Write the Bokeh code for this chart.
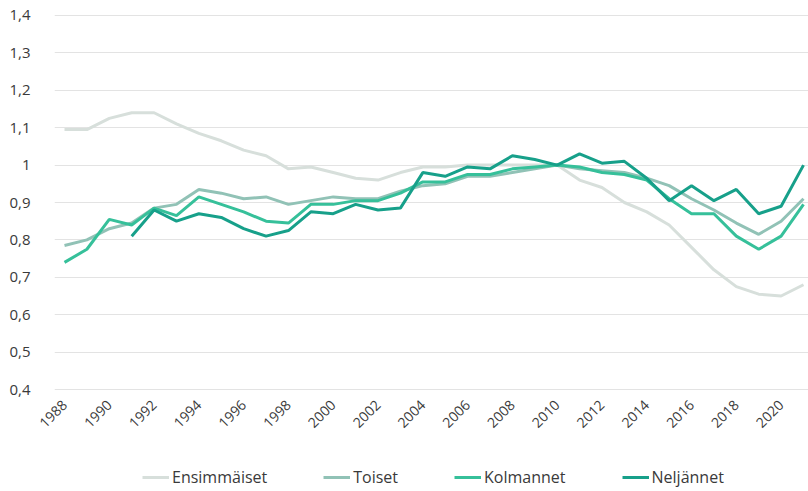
from bokeh.plotting import figure
from bokeh.models import Range1d, FixedTicker, Legend, LegendItem
from bokeh.layouts import column
from bokeh.embed import file_html
from bokeh.resources import INLINE
import math

years = list(range(1988, 2022))
ensimmaiset = [1.095, 1.095, 1.125, 1.14, 1.14, 1.11, 1.085, 1.065, 1.04, 1.025,
               0.99, 0.995, 0.98, 0.965, 0.96, 0.98, 0.995, 0.995, 1.0, 1.0,
               1.0, 1.0, 1.0, 0.96, 0.94, 0.9, 0.875, 0.84, 0.78, 0.72,
               0.675, 0.655, 0.65, 0.68]
toiset = [0.785, 0.80, 0.83, 0.845, 0.885, 0.895, 0.935, 0.925, 0.91, 0.915,
          0.895, 0.905, 0.915, 0.91, 0.91, 0.93, 0.945, 0.95, 0.97, 0.97,
          0.98, 0.99, 1.0, 0.99, 0.985, 0.98, 0.965, 0.945, 0.91, 0.88,
          0.845, 0.815, 0.85, 0.91]
kolmannet = [0.74, 0.775, 0.855, 0.84, 0.885, 0.865, 0.915, 0.895, 0.875, 0.85,
             0.845, 0.895, 0.895, 0.905, 0.905, 0.925, 0.955, 0.955, 0.975, 0.975,
             0.99, 0.995, 1.0, 0.995, 0.98, 0.975, 0.96, 0.91, 0.87, 0.87,
             0.81, 0.775, 0.81, 0.895]
nel_years = list(range(1991, 2022))
neljannet = [0.81, 0.88, 0.85, 0.87, 0.86, 0.83, 0.81,
             0.825, 0.875, 0.87, 0.895, 0.88, 0.885, 0.98, 0.97, 0.995, 0.99,
             1.025, 1.015, 1.0, 1.03, 1.005, 1.01, 0.965, 0.905, 0.945, 0.905,
             0.935, 0.87, 0.89, 1.0]

y_ticks = [0.4, 0.5, 0.6, 0.7, 0.8, 0.9, 1.0, 1.1, 1.2, 1.3, 1.4]
y_labels = ["0,4", "0,5", "0,6", "0,7", "0,8", "0,9", "1", "1,1", "1,2", "1,3", "1,4"]
x_ticks = list(range(1988, 2021, 2))

series_names = ["Ensimmäiset", "Toiset", "Kolmannet", "Neljännet"]
series_x = [years, years, years, nel_years]
series_y = [ensimmaiset, toiset, kolmannet, neljannet]
colors = ["#d7dfdb", "#91c2b6", "#36c09a", "#17a08a"]

FONT = "Open Sans"
LW = 3

p = figure(width=808, height=460, output_backend="svg", toolbar_location=None,
           x_range=Range1d(1987.553, 2021.223), y_range=Range1d(0.392, 1.408),
           min_border_left=54, min_border_right=0, min_border_top=12, min_border_bottom=68)
p.outline_line_color = None

for xs, ys, c in zip(series_x, series_y, colors):
    p.line(xs, ys, line_color=c, line_width=LW)

p.xgrid.grid_line_color = None
p.ygrid.grid_line_color = "#e3e3e3"
p.ygrid.grid_line_width = 1.2
p.ygrid.ticker = FixedTicker(ticks=y_ticks)

p.yaxis.ticker = FixedTicker(ticks=y_ticks)
p.yaxis.major_label_overrides = {t: l for t, l in zip(y_ticks, y_labels)}
p.yaxis.axis_line_color = None
p.yaxis.major_tick_line_color = None
p.yaxis.minor_tick_line_color = None
p.yaxis.major_label_standoff = 18
p.yaxis.major_label_text_font = FONT
p.yaxis.major_label_text_font_size = "15px"
p.yaxis.major_label_text_color = "#3a3a3a"

p.xaxis.ticker = FixedTicker(ticks=x_ticks)
p.xaxis.major_label_overrides = {t: str(t) for t in x_ticks}
p.xaxis.axis_line_color = None
p.xaxis.major_tick_line_color = None
p.xaxis.minor_tick_line_color = None
p.xaxis.major_label_orientation = math.pi / 4
p.xaxis.major_label_standoff = 4
p.xaxis.major_label_text_font = FONT
p.xaxis.major_label_text_font_size = "14px"
p.xaxis.major_label_text_color = "#3a3a3a"

# legend strip below the chart (series drawn outside its visible range, legend only)
p2 = figure(width=808, height=31, output_backend="svg", toolbar_location=None,
            x_range=Range1d(0, 1), y_range=Range1d(0, 1),
            x_axis_location=None, y_axis_location=None,
            min_border_left=0, min_border_right=0, min_border_top=0, min_border_bottom=0)
p2.grid.visible = False
p2.outline_line_color = None
lr = [p2.line(xs, ys, line_color=c, line_width=LW) for xs, ys, c in zip(series_x, series_y, colors)]

legend = Legend(items=[LegendItem(label=n, renderers=[r]) for n, r in zip(series_names, lr)],
                orientation="horizontal", location=(88, 3),
                label_text_font=FONT, label_text_font_size="16px", label_text_color="#3a3a3a",
                glyph_width=27, glyph_height=20, label_standoff=3, spacing=56,
                padding=0, margin=0, border_line_color=None, background_fill_alpha=0)
p2.add_layout(legend, "center")

layout = column(p, p2, spacing=0)
open("out.html", "w").write(file_html(layout, INLINE))
